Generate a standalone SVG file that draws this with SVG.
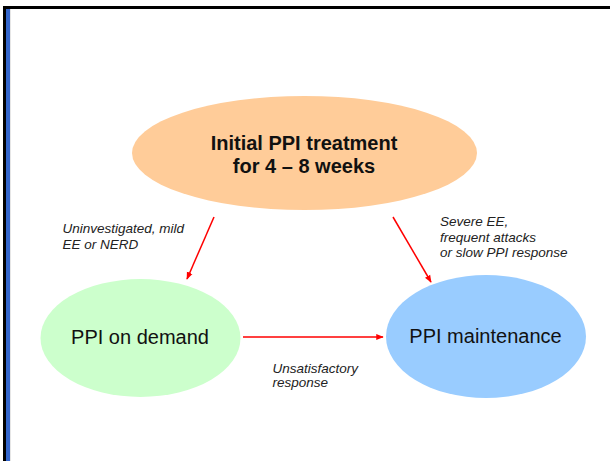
<svg xmlns="http://www.w3.org/2000/svg" width="610" height="461" viewBox="0 0 610 461">
<defs>
<style>
.lbl{font-family:"Liberation Sans",Arial,sans-serif;font-style:italic;font-size:13.5px;fill:#222}
.node{font-family:"Liberation Sans",Arial,sans-serif;fill:#111}
.conn{stroke:#ff0000;stroke-width:1.5;fill:none;marker-end:url(#ah)}
</style>
<marker id="ah" viewBox="0 0 10 10" refX="9" refY="5" markerWidth="5" markerHeight="5" orient="auto" markerUnits="strokeWidth">
<path d="M0,1 L10,5 L0,9 Z" fill="#ff0000"/>
</marker>
</defs>
<rect x="0" y="0" width="610" height="461" fill="#ffffff"/>
<g id="frame">
<rect x="3" y="6" width="607" height="3" fill="#000"/>
<rect x="3" y="6" width="3" height="455" fill="#000"/>
<rect x="6" y="9" width="4" height="452" fill="#3366cc"/>
<rect x="10" y="9" width="1" height="452" fill="#e6e6e6"/>
</g>
<g id="connectors">
<line class="conn" x1="214" y1="217" x2="187" y2="279"/>
<line class="conn" x1="393" y1="217" x2="431" y2="282"/>
<line class="conn" x1="243" y1="337" x2="383" y2="337"/>
</g>
<g id="initial">
<ellipse cx="304.5" cy="153" rx="172.5" ry="57" fill="#ffcc99"/>
<text class="node" x="304" y="150" font-size="20" font-weight="bold" text-anchor="middle">Initial PPI treatment</text>
<text class="node" x="304" y="173" font-size="20" font-weight="bold" text-anchor="middle">for 4 – 8 weeks</text>
</g>
<g id="ondemand">
<ellipse cx="140.5" cy="338" rx="100" ry="59" fill="#ccffcc"/>
<text class="node" x="140" y="344" font-size="20" text-anchor="middle">PPI on demand</text>
</g>
<g id="maintenance">
<ellipse cx="486" cy="336.5" rx="100" ry="61.5" fill="#99ccff"/>
<text class="node" x="485.5" y="343" font-size="20" text-anchor="middle">PPI maintenance</text>
</g>
<g id="labels">
<text class="lbl" x="62.5" y="232.5">Uninvestigated, mild</text>
<text class="lbl" x="62.5" y="249">EE or NERD</text>
<text class="lbl" x="440" y="226">Severe EE,</text>
<text class="lbl" x="440" y="241.5">frequent attacks</text>
<text class="lbl" x="440" y="257">or slow PPI response</text>
<text class="lbl" x="272.5" y="372.5">Unsatisfactory</text>
<text class="lbl" x="272.5" y="386.5">response</text>
</g>
</svg>
